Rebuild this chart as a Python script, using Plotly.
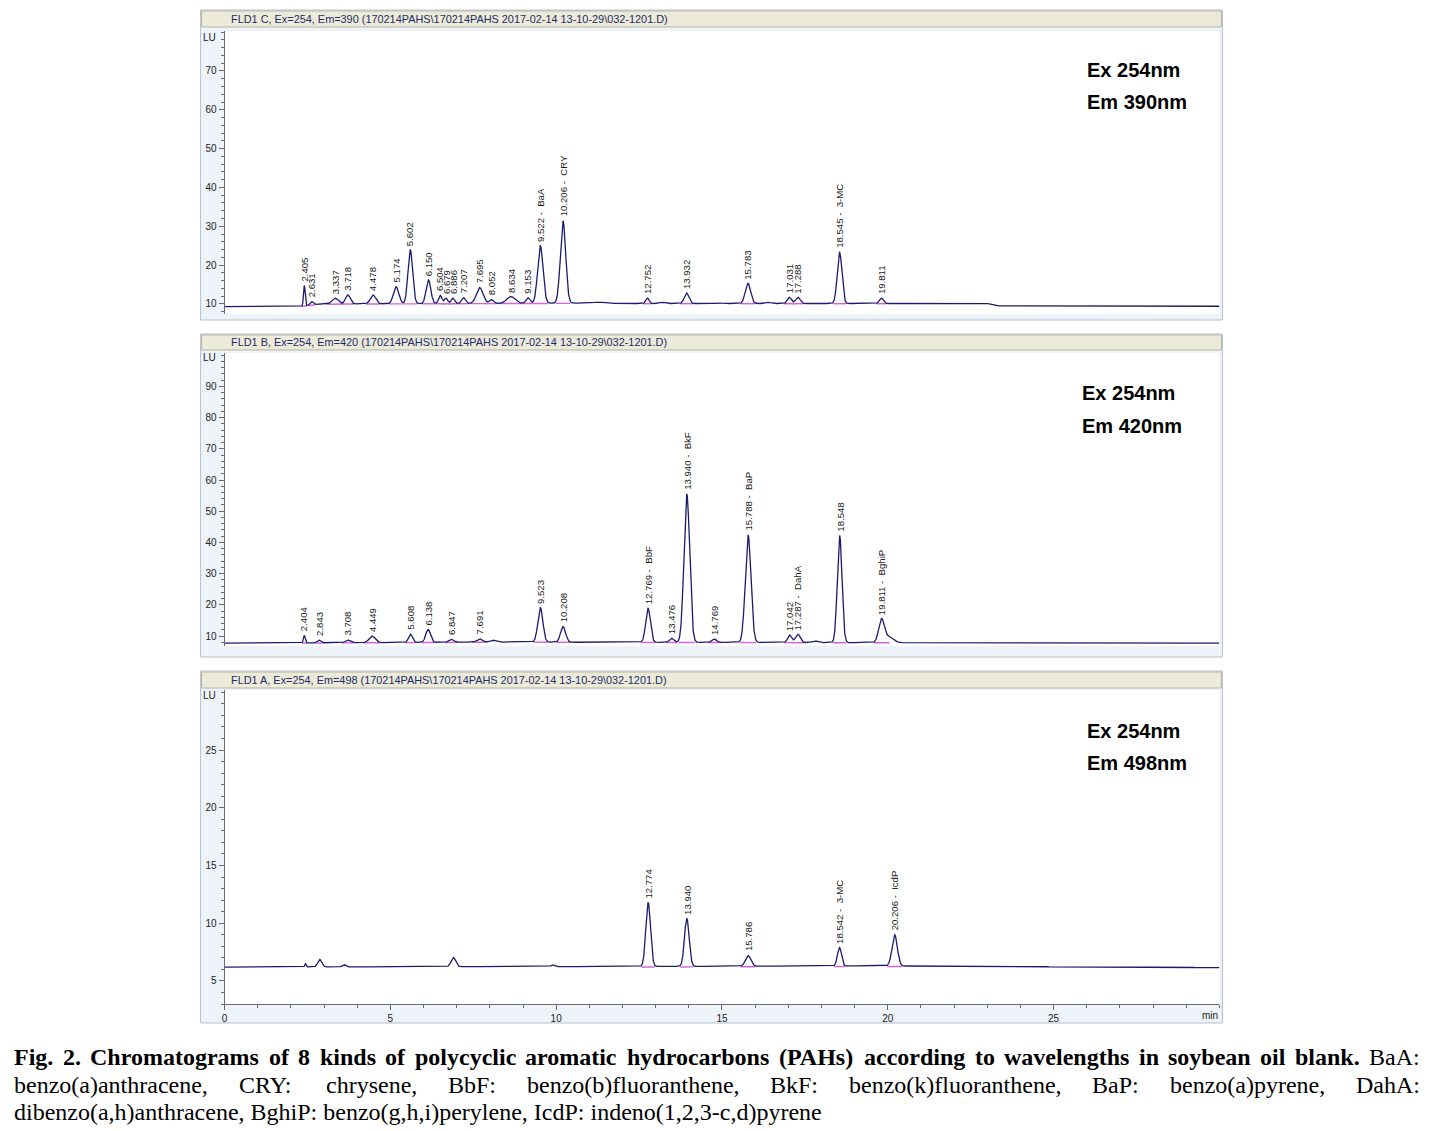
import numpy as np
import plotly.graph_objects as go

W, H = 1429, 1131

# ------------------------------------------------------------------ data
# Panel 1 : FLD1 C, Ex=254, Em=390
p1_rt = [2.405, 2.631, 3.337, 3.718, 4.478, 5.174, 5.602, 6.150, 6.504, 6.679, 6.886,
         7.207, 7.695, 8.052, 8.634, 9.153, 9.522, 10.206, 12.752, 13.932, 15.783,
         17.031, 17.288, 18.545, 19.811]
p1_apex = [14.8, 10.6, 11.5, 12.3, 12.3, 14.4, 23.9, 16.2, 12.2, 11.5, 11.5,
           11.6, 14.2, 11.1, 11.9, 11.6, 25.0, 31.4, 11.5, 12.8, 15.3,
           11.7, 11.7, 23.3, 11.5]
p1_sigma = [0.025, 0.04, 0.09, 0.07, 0.08, 0.08, 0.07, 0.07, 0.05, 0.05, 0.05,
            0.06, 0.10, 0.06, 0.12, 0.06, 0.08, 0.08, 0.05, 0.07, 0.08,
            0.06, 0.07, 0.07, 0.06]
p1_label = ["2.405", "2.631", "3.337", "3.718", "4.478", "5.174", "5.602", "6.150", "6.504",
            "6.679", "6.886", "7.207", "7.695", "8.052", "8.634", "9.153", "9.522 -  BaA",
            "10.206 -  CRY", "12.752", "13.932", "15.783", "17.031", "17.288",
            "18.545 -  3-MC", "19.811"]
p1_minor_rt = [11.3, 13.2, 14.9, 16.4, 21.0]
p1_minor_h = [0.3, 0.35, 0.2, 0.3, 0.15]
p1_minor_sigma = [0.15, 0.08, 0.1, 0.08, 0.3]
p1_base_t = [0.0, 2.35, 2.6, 3.2, 10.8, 12.0, 23.0, 23.3, 30.0]
p1_base_v = [9.3, 9.35, 9.8, 10.0, 10.2, 10.1, 10.1, 9.5, 9.4]

# Panel 2 : FLD1 B, Ex=254, Em=420
p2_rt = [2.404, 2.843, 3.708, 4.449, 5.608, 6.138, 6.847, 7.691, 9.523, 10.208,
         12.769, 13.476, 13.940, 14.769, 15.788, 17.042, 17.287, 18.548, 19.811]
p2_apex = [10.2, 8.7, 8.7, 10.0, 10.6, 12.1, 8.9, 9.1, 19.1, 13.0,
           18.9, 9.3, 55.5, 9.0, 42.4, 10.3, 10.6, 42.2, 15.4]
p2_sigma = [0.025, 0.05, 0.07, 0.09, 0.06, 0.07, 0.07, 0.08, 0.075, 0.075,
            0.07, 0.06, 0.085, 0.07, 0.085, 0.06, 0.07, 0.07, 0.085]
p2_label = ["2.404", "2.843", "3.708", "4.449", "5.608", "6.138", "6.847", "7.691", "9.523",
            "10.208", "12.769 -  BbF", "13.476", "13.940 -  BkF", "14.769", "15.788 -  BaP",
            "17.042", "17.287 -  DahA", "18.548", "19.811 -  BghiP"]
p2_minor_rt = [8.1, 17.8, 20.05]
p2_minor_h = [0.6, 0.5, 1.8]
p2_minor_sigma = [0.08, 0.08, 0.12]
p2_base_t = [0.0, 2.3, 9.0, 10.5, 12.5, 30.0]
p2_base_v = [7.7, 7.8, 8.1, 8.0, 8.0, 7.7]

# Panel 3 : FLD1 A, Ex=254, Em=498
p3_rt = [12.774, 13.940, 15.786, 18.542, 20.206]
p3_apex = [11.8, 10.4, 7.2, 7.9, 9.0]
p3_sigma = [0.07, 0.07, 0.08, 0.06, 0.08]
p3_label = ["12.774", "13.940", "15.786", "18.542 -  3-MC", "20.206 -  IcdP"]
p3_minor_rt = [2.44, 2.87, 3.6, 6.90, 9.9]
p3_minor_h = [0.3, 0.65, 0.2, 0.8, 0.15]
p3_minor_sigma = [0.02, 0.06, 0.05, 0.07, 0.05]
p3_base_t = [0.0, 12.0, 20.0, 30.0]
p3_base_v = [6.2, 6.25, 6.3, 6.15]

headers = ["FLD1 C, Ex=254, Em=390 (170214PAHS\\170214PAHS 2017-02-14 13-10-29\\032-1201.D)",
           "FLD1 B, Ex=254, Em=420 (170214PAHS\\170214PAHS 2017-02-14 13-10-29\\032-1201.D)",
           "FLD1 A, Ex=254, Em=498 (170214PAHS\\170214PAHS 2017-02-14 13-10-29\\032-1201.D)"]
wave_labels = [("Ex 254nm", "Em 390nm"), ("Ex 254nm", "Em 420nm"), ("Ex 254nm", "Em 498nm")]
y_ticks = [[10, 20, 30, 40, 50, 60, 70],
           [10, 20, 30, 40, 50, 60, 70, 80, 90],
           [5, 10, 15, 20, 25]]
x_ticks = [0, 5, 10, 15, 20, 25]

cap_line1_bold = ("Fig. 2. Chromatograms of 8 kinds of polycyclic aromatic hydrocarbons (PAHs) "
                  "according to wavelengths in soybean oil blank.")
cap_line1_reg = "BaA:"
cap_line2 = ("benzo(a)anthracene, CRY: chrysene, BbF: benzo(b)fluoranthene, BkF: "
             "benzo(k)fluoranthene, BaP: benzo(a)pyrene, DahA:")
cap_line3 = "dibenzo(a,h)anthracene, BghiP: benzo(g,h,i)perylene, IcdP: indeno(1,2,3-c,d)pyrene"

# ------------------------------------------------------------------ layout geometry (px)
PLOT_X0, PLOT_X1 = 222, 1219
panels = [
    dict(outer=(198, 10, 1222, 320), header=(199, 11, 1221, 27), plot=(31, 314), yr=[7.4, 80.3],
         minor=2, lu=37, hy=19, wy=(70, 102), wx=1084),
    dict(outer=(198, 334, 1222, 657), header=(199, 335, 1221, 350), plot=(353, 646), yr=[6.8, 100.7],
         minor=2, lu=358, hy=342, wy=(393, 426), wx=1079),
    dict(outer=(198, 671, 1222, 1023), header=(199, 672, 1221, 688), plot=(690, 1004), yr=[3.0, 30.2],
         minor=1, lu=695, hy=680, wy=(731, 763), wx=1084),
]


def fx(x):
    return x / W


def fy(y):
    return 1 - y / H


TRACE_COL = "#1b1b6c"
BASE_COL = "#d862d8"
SANS = "Arial, Liberation Sans"

fig = go.Figure()
shapes = []
annotations = []

data = [
    (p1_rt, p1_apex, p1_sigma, p1_label, p1_minor_rt, p1_minor_h, p1_minor_sigma, p1_base_t, p1_base_v),
    (p2_rt, p2_apex, p2_sigma, p2_label, p2_minor_rt, p2_minor_h, p2_minor_sigma, p2_base_t, p2_base_v),
    (p3_rt, p3_apex, p3_sigma, p3_label, p3_minor_rt, p3_minor_h, p3_minor_sigma, p3_base_t, p3_base_v),
]

t = np.arange(0, 30.0001, 0.004)

for i, (pan, d) in enumerate(zip(panels, data)):
    rt, apex, sig, lab, mrt, mh, msig, bt, bv = d
    xa = "x" if i == 0 else f"x{i+1}"
    ya = "y" if i == 0 else f"y{i+1}"
    base = np.interp(t, bt, bv)
    sig_y = base.copy()
    for r, a, s in zip(rt, apex, sig):
        b0 = np.interp(r, bt, bv)
        sig_y += (a - b0) * np.exp(-0.5 * ((t - r) / s) ** 2)
    for r, a, s in zip(mrt, mh, msig):
        sig_y += a * np.exp(-0.5 * ((t - r) / s) ** 2)
    # integration baselines
    bx, by = [], []
    for r, s in zip(rt, sig):
        xs = [r - 2.8 * s, r + 2.8 * s]
        bx += xs + [None]
        by += [np.interp(xs[0], bt, bv) - 0.05, np.interp(xs[1], bt, bv) - 0.05, None]
    fig.add_trace(go.Scatter(x=bx, y=by, mode="lines", line=dict(color=BASE_COL, width=1.4),
                             xaxis=xa, yaxis=ya, hoverinfo="skip"))
    fig.add_trace(go.Scatter(x=t, y=sig_y, mode="lines", line=dict(color=TRACE_COL, width=1.3),
                             xaxis=xa, yaxis=ya, hoverinfo="skip"))
    for r, a, l in zip(rt, apex, lab):
        annotations.append(dict(x=r, y=a, xref=xa, yref=ya, text=l.replace("  ", " \u00a0"),
                                textangle=-90, showarrow=False, xanchor="center", yanchor="bottom",
                                yshift=2, font=dict(family=SANS, size=9.6, color="#1a1a1a")))

    ox0, oy0, ox1, oy1 = pan["outer"]
    shapes.append(dict(type="rect", xref="paper", yref="paper", x0=fx(ox0), x1=fx(ox1),
                       y0=fy(oy1), y1=fy(oy0), fillcolor="#edf3f9",
                       line=dict(color="#b4c0cc", width=1), layer="below"))
    hx0, hy0, hx1, hy1 = pan["header"]
    shapes.append(dict(type="rect", xref="paper", yref="paper", x0=fx(hx0), x1=fx(hx1),
                       y0=fy(hy1), y1=fy(hy0), fillcolor="#ecead8",
                       line=dict(color="#b9b5a3", width=1), layer="below"))
    py0, py1 = pan["plot"]
    shapes.append(dict(type="rect", xref="paper", yref="paper", x0=fx(PLOT_X0), x1=fx(PLOT_X1),
                       y0=fy(py1), y1=fy(py0), fillcolor="white", line=dict(width=0),
                       layer="below"))

    annotations.append(dict(x=fx(226), y=fy(pan["hy"]), xref="paper", yref="paper",
                            text=headers[i], showarrow=False, xanchor="left", yanchor="middle",
                            font=dict(family=SANS, size=10.9, color="#1f2b6b")))
    annotations.append(dict(x=fx(215), y=fy(pan["lu"]), xref="paper", yref="paper",
                            text="LU", showarrow=False, xanchor="right", yanchor="middle",
                            font=dict(family=SANS, size=10, color="#222222")))
    for txt, yy in zip(wave_labels[i], pan["wy"]):
        annotations.append(dict(x=fx(pan["wx"]), y=fy(yy), xref="paper", yref="paper",
                                text=f"<b>{txt}</b>", showarrow=False, xanchor="left",
                                yanchor="middle",
                                font=dict(family=SANS, size=20, color="#000000")))

    xdict = dict(domain=[fx(PLOT_X0), fx(PLOT_X1)], range=[0, 30], anchor=ya,
                 showgrid=False, zeroline=False)
    if i == 2:
        xdict.update(showline=True, linecolor="#6a6a6a", linewidth=1, ticks="outside", ticklen=5,
                     tickcolor="#6a6a6a", tickvals=x_ticks, ticktext=[str(v) for v in x_ticks],
                     tickfont=dict(family=SANS, size=10, color="#222222"),
                     minor=dict(dtick=1, tick0=0, ticks="outside", ticklen=3, tickcolor="#6a6a6a"))
    else:
        xdict.update(showline=False, showticklabels=False, ticks="")
    ydict = dict(domain=[fy(py1), fy(py0)], range=pan["yr"], anchor=xa, showgrid=False,
                 zeroline=False, showline=True, linecolor="#6a6a6a", linewidth=1,
                 ticks="outside", ticklen=5, tickcolor="#6a6a6a", tickvals=y_ticks[i],
                 tickfont=dict(family=SANS, size=10, color="#222222"),
                 minor=dict(dtick=pan["minor"], tick0=0, ticks="outside", ticklen=3,
                            tickcolor="#6a6a6a"))
    key = "" if i == 0 else str(i + 1)
    fig.layout["xaxis" + key] = xdict
    fig.layout["yaxis" + key] = ydict

annotations.append(dict(x=fx(1220), y=fy(1015), xref="paper", yref="paper", text="min",
                        showarrow=False, xanchor="right", yanchor="middle",
                        font=dict(family=SANS, size=10, color="#222222")))

# ------------------------------------------------------------------ caption (justified)
TR = {" ": 250, "(": 333, ")": 333, ",": 250, "-": 333, ".": 250, ":": 278,
      "A": 722, "B": 667, "C": 667, "D": 722, "F": 556, "I": 333, "P": 556, "R": 667, "Y": 722,
      "a": 444, "b": 500, "c": 444, "d": 500, "e": 444, "f": 333, "g": 500, "h": 500, "i": 278,
      "k": 500, "l": 278, "m": 778, "n": 500, "o": 500, "p": 500, "r": 333, "s": 389, "t": 278,
      "u": 500, "v": 500, "w": 722, "y": 500, "z": 444}
TB = {" ": 250, "(": 333, ")": 333, ",": 250, ".": 250, ":": 333,
      "A": 722, "B": 667, "C": 722, "F": 611, "H": 778, "P": 611,
      "a": 500, "b": 556, "c": 444, "d": 556, "e": 444, "f": 333, "g": 500, "h": 556, "i": 278,
      "k": 556, "l": 278, "m": 833, "n": 556, "o": 500, "p": 556, "r": 444, "s": 389, "t": 333,
      "u": 556, "v": 500, "w": 722, "y": 500, "z": 444}
CAP_SIZE = 24
CAP_FONT = "Liberation Serif, Times New Roman, serif"
CAP_X0, CAP_X1 = 9, 1418


def wwidth(word, table):
    return sum(table.get(c, 500 if c.isdigit() or c.isalpha() else 300) for c in word) * CAP_SIZE / 1000


def justify(words, cy):
    widths = [wwidth(w, TB if b else TR) for w, b in words]
    gap = (CAP_X1 - CAP_X0 - sum(widths)) / (len(words) - 1)
    x = CAP_X0
    for (w, b), wd in zip(words, widths):
        annotations.append(dict(x=fx(x), y=fy(cy), xref="paper", yref="paper",
                                text=f"<b>{w}</b>" if b else w, showarrow=False,
                                xanchor="left", yanchor="middle",
                                font=dict(family=CAP_FONT, size=CAP_SIZE, color="#000000")))
        x += wd + gap


justify([(w, True) for w in cap_line1_bold.split()] + [(cap_line1_reg, False)], 1057)
justify([(w, False) for w in cap_line2.split()], 1085)
annotations.append(dict(x=fx(CAP_X0), y=fy(1112), xref="paper", yref="paper", text=cap_line3,
                        showarrow=False, xanchor="left", yanchor="middle",
                        font=dict(family=CAP_FONT, size=CAP_SIZE, color="#000000")))

fig.update_layout(width=W, height=H, margin=dict(l=0, r=0, t=0, b=0), showlegend=False,
                  paper_bgcolor="white", plot_bgcolor="rgba(0,0,0,0)",
                  shapes=shapes, annotations=annotations)

fig.write_html("out.html", config={"displayModeBar": False},
               post_script="document.body.style.margin='0';document.body.style.padding='0';")
